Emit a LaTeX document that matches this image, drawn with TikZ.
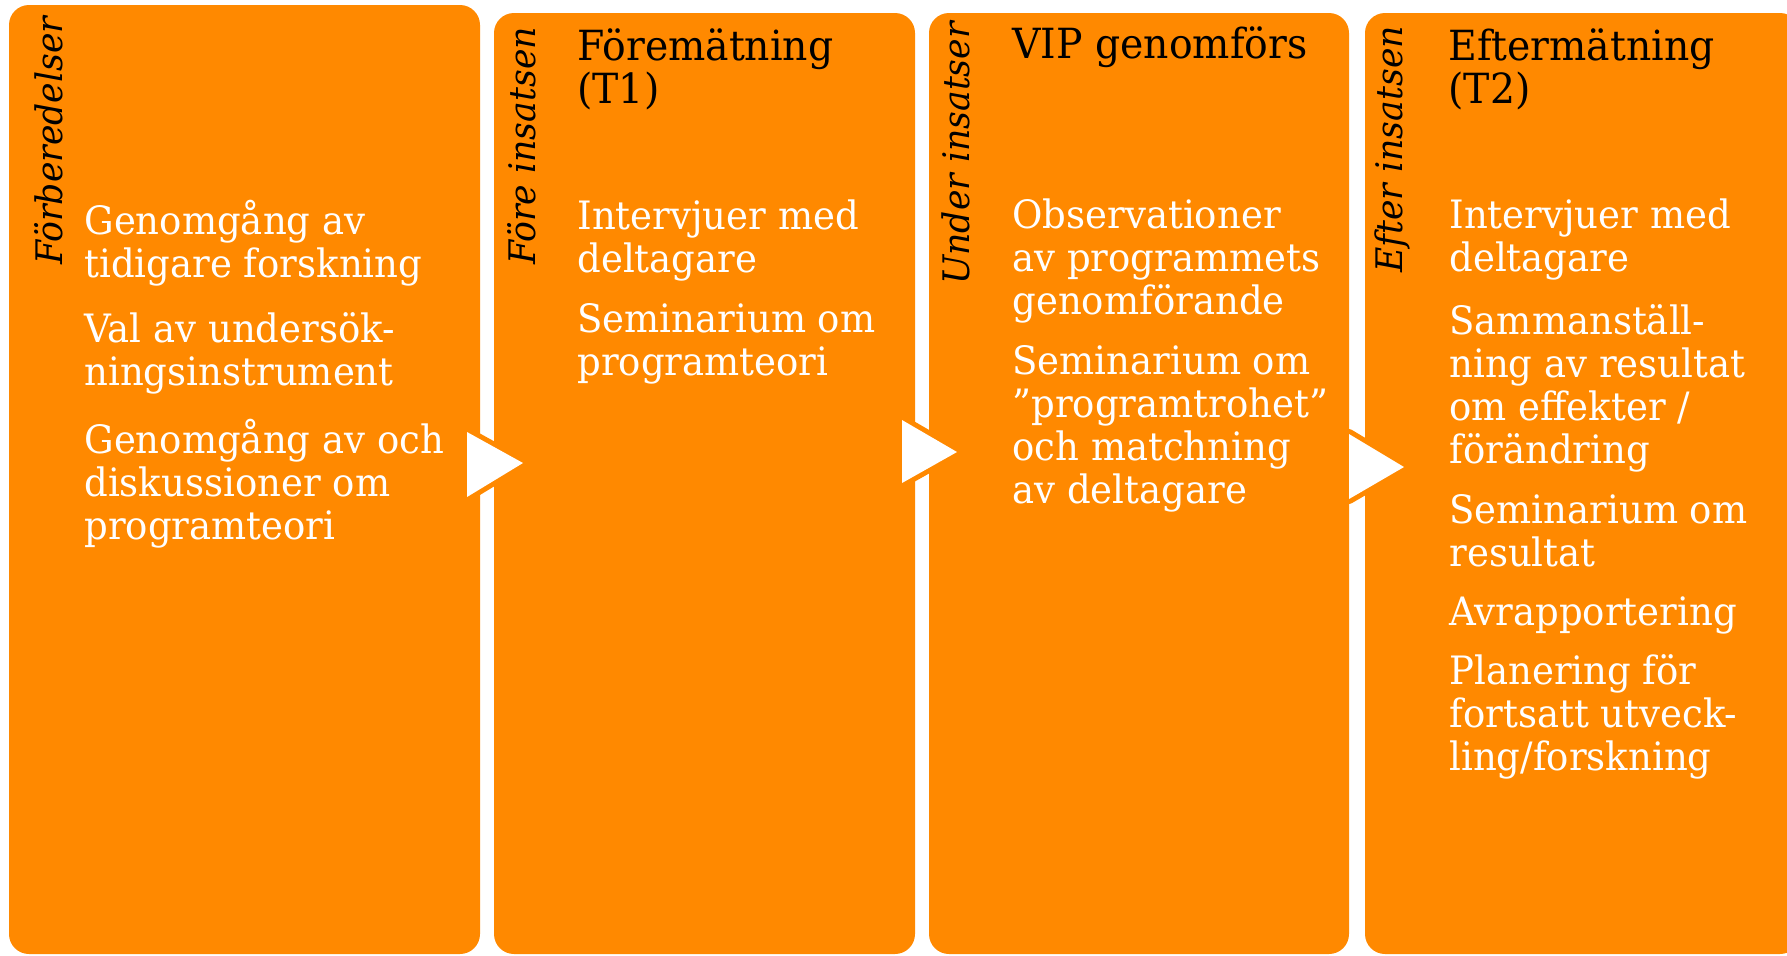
\documentclass[tikz,border=0pt]{standalone}
\usepackage{fontspec}
\setmainfont{DejaVu Serif}
\definecolor{boxorange}{RGB}{255,137,0}
\newlength\myw
\newlength\myh
\begin{document}
\settowidth\myw{\fontsize{10pt}{12pt}\selectfont Seminarium om}%
\settoheight\myh{\fontsize{10pt}{12pt}\selectfont H}%
\pgfmathsetmacro\fsitem{10*14.25/\myh}%
\pgfmathsetmacro\stretchval{149/(\myw*\fsitem/10)}%
\edef\mkfont{\noexpand\newfontfamily\noexpand\diafont{DejaVu Serif}[FakeStretch=\stretchval]}\mkfont
\settowidth\myw{\diafont\fontsize{10pt}{12pt}\selectfont\itshape Förberedelser}%
\pgfmathsetmacro\fslab{10*124/\myw}%
\settowidth\myw{\diafont\fontsize{10pt}{12pt}\selectfont VIP genomförs}%
\pgfmathsetmacro\fstitle{10*147.5/\myw}%
\begin{tikzpicture}[x=0.5pt,y=-0.5pt]
\tikzset{
  panel/.style={fill=boxorange, rounded corners=10pt},
  item/.style={anchor=base west, align=left, inner sep=0pt, text=white,
    font=\diafont\fontsize{\fsitem pt}{21.5pt}\selectfont},
  phase/.style={anchor=base west, inner sep=0pt, rotate=90, text=black,
    font=\diafont\fontsize{\fslab pt}{21.5pt}\selectfont\itshape},
  title/.style={anchor=base west, align=left, inner sep=0pt, text=black,
    font=\diafont\fontsize{\fstitle pt}{21.5pt}\selectfont},
  chevedge/.style={draw=boxorange, line width=5pt, line join=round},
  chev/.style={fill=white}
}
\useasboundingbox (0,0) rectangle (1787,955);
% panels
\fill[panel] (9,5) rectangle (480,954);
\fill[panel] (494,13) rectangle (915,954);
\fill[panel] (929,13) rectangle (1349,954);
\fill[panel] (1365,13) rectangle (1800,954);
% arrows
\draw[chevedge] (467,432) -- (523,463) -- (467,497) -- cycle;
\fill[chev] (467,432) -- (523,463) -- (467,497) -- cycle;
\draw[chevedge] (902,420) -- (957,452) -- (902,483) -- cycle;
\fill[chev] (902,420) -- (957,452) -- (902,483) -- cycle;
\draw[chevedge] (1349,434) -- (1404,467) -- (1349,499) -- cycle;
\fill[chev] (1349,434) -- (1404,467) -- (1349,499) -- cycle;
% panel 1
\node[phase] (p1) at (62,265) {Förberedelser};
\node[item] (a1) at (84,277) {Genomgång av\\tidigare forskning};
\node[item] (a2) at (84,385) {Val av undersök-\\ningsinstrument};
\node[item] (a3) at (84,539) {Genomgång av och\\diskussioner om\\programteori};
% panel 2
\node[phase] (p2) at (535,265) {Före insatsen};
\node[title] (t2) at (577,103) {Föremätning\\(T1)};
\node[item] (b1) at (577,272) {Intervjuer med\\deltagare};
\node[item] (b2) at (577,375) {Seminarium om\\programteori};
% panel 3
\node[phase] (p3) at (969,285) {Under insatser};
\node[title] (t3) at (1012,58) {VIP genomförs};
\node[item] (c1) at (1012,314) {Observationer\\av programmets\\genomförande};
\node[item] (c2) at (1012,503) {Seminarium om\\”programtrohet”\\och matchning\\av deltagare};
% panel 4
\node[phase] (p4) at (1402,273) {Efter insatsen};
\node[title] (t4) at (1448,103) {Eftermätning\\(T2)};
\node[item] (d1) at (1449,271) {Intervjuer med\\deltagare};
\node[item] (d2) at (1449,463) {Sammanställ-\\ning av resultat\\om effekter /\\förändring};
\node[item] (d3) at (1449,566) {Seminarium om\\resultat};
\node[item] (d4) at (1449,625) {Avrapportering};
\node[item] (d5) at (1449,770) {Planering för\\fortsatt utveck-\\ling/forskning};
\end{tikzpicture}
\end{document}
